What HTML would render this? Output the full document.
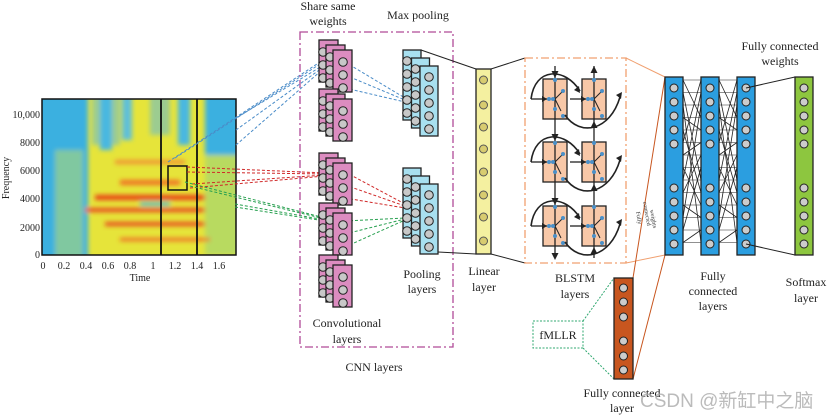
<!DOCTYPE html>
<html><head><meta charset="utf-8"><style>
html,body{margin:0;padding:0;background:#fff;}
svg{display:block;font-family:"Liberation Serif","Noto Serif CJK SC",serif;}
</style></head><body>
<svg id="s" width="828" height="415" viewBox="0 0 828 415" xmlns="http://www.w3.org/2000/svg">
<defs>
<filter id="blur1" x="-10%" y="-10%" width="120%" height="120%"><feGaussianBlur stdDeviation="2.5"/></filter>
<clipPath id="sc"><rect x="42" y="99" width="194" height="156"/></clipPath>
</defs>
<!-- spectrogram -->
<g clip-path="url(#sc)">
<rect x="42" y="99" width="194" height="156" fill="#e6e43a"/>
<g filter="url(#blur1)">
<rect x="30" y="90" width="58" height="180" fill="#3ab0e0"/>
<rect x="55" y="150" width="28" height="110" fill="#80c8a0"/>
<rect x="92" y="90" width="28" height="55" fill="#9ccc90"/>
<rect x="100" y="95" width="12" height="55" fill="#4ab8e0"/>
<rect x="122" y="95" width="10" height="45" fill="#60c0d8"/>
<rect x="150" y="95" width="20" height="40" fill="#9ccc90"/>
<rect x="178" y="90" width="12" height="55" fill="#4ab8e0"/>
<rect x="205" y="90" width="35" height="65" fill="#3ab0e0"/>
<rect x="205" y="155" width="35" height="100" fill="#b8da60"/>
<rect x="115" y="160" width="70" height="4" fill="#f09030"/>
<rect x="120" y="180" width="60" height="5" fill="#f07020"/>
<rect x="95" y="195" width="110" height="5" fill="#e83a18"/>
<rect x="85" y="208" width="120" height="4" fill="#e8401a"/>
<rect x="105" y="222" width="100" height="4" fill="#e84a1a"/>
<rect x="120" y="238" width="90" height="3" fill="#f06020"/>
<rect x="140" y="202" width="30" height="4" fill="#5ac0c0"/>
</g>
</g>
<rect x="42" y="99" width="194" height="156" fill="none" stroke="#111" stroke-width="1.5"/>
<line x1="161" y1="99" x2="161" y2="255" stroke="#111" stroke-width="1.8"/>
<line x1="197" y1="99" x2="197" y2="255" stroke="#111" stroke-width="1.8"/>
<rect x="168" y="166" width="19" height="24" fill="none" stroke="#111" stroke-width="1.5"/>
<g font-size="10" fill="#222" text-anchor="end">
<text x="40" y="118">10,000</text><text x="40" y="146">8000</text><text x="40" y="174">6000</text>
<text x="40" y="202">4000</text><text x="40" y="231">2000</text><text x="40" y="258">0</text>
</g>
<g font-size="10" fill="#222" text-anchor="middle">
<text x="43" y="269">0</text><text x="64" y="269">0.2</text><text x="86" y="269">0.4</text><text x="108" y="269">0.6</text>
<text x="130" y="269">0.8</text><text x="153" y="269">1</text><text x="175" y="269">1.2</text><text x="197" y="269">1.4</text><text x="219" y="269">1.6</text>
<text x="140" y="281">Time</text>
<text transform="translate(9,178) rotate(-90)" font-size="10">Frequency</text>
</g>
<!-- dashed connections -->
<g fill="none" stroke-dasharray="3,2" stroke-width="1">
<g stroke="#4a8cc8"><path d="M168 162 L320 62"/><path d="M236 118 L322 66"/><path d="M236 130 L322 68"/><path d="M236 145 L322 70"/><path d="M175 158 L320 64"/>
<path d="M345 62 L405 98"/><path d="M345 75 L405 100"/><path d="M345 88 L405 102"/></g>
<g stroke="#d02828"><path d="M187 167 L325 173"/><path d="M190 188 L325 176"/><path d="M187 172 L325 174"/><path d="M192 184 L325 175"/>
<path d="M345 172 L405 204"/><path d="M345 185 L405 206"/><path d="M345 198 L405 208"/></g>
<g stroke="#28a050"><path d="M185 182 L325 218"/><path d="M235 204 L325 220"/><path d="M190 186 L325 219"/><path d="M235 207 L325 221"/>
<path d="M345 221 L405 218"/><path d="M345 234 L405 219"/><path d="M345 247 L405 220"/></g>
</g>
<!-- CNN box -->
<rect x="300" y="32" width="153" height="315" fill="none" stroke="#b04a98" stroke-width="1.3" stroke-dasharray="8,3,2,3"/>
<g id="cnn"></g>
<g font-size="12" fill="#222" text-anchor="middle">
<text x="328" y="10">Share same</text><text x="328" y="25">weights</text>
<text x="418" y="19">Max pooling</text>
<text x="347" y="327">Convolutional</text><text x="347" y="343">layers</text>
<text x="422" y="278">Pooling</text><text x="422" y="293">layers</text>
<text x="374" y="371">CNN layers</text>
<text x="484" y="275">Linear</text><text x="484" y="291">layer</text>
<text x="575" y="282">BLSTM</text><text x="575" y="298">layers</text>
<text x="780" y="50">Fully connected</text><text x="780" y="65">weights</text>
<text x="713" y="280">Fully</text><text x="713" y="295">connected</text><text x="713" y="310">layers</text>
<text x="806" y="286">Softmax</text><text x="806" y="302">layer</text>
<text x="622" y="397">Fully connected</text><text x="622" y="412">layer</text>
<text x="558" y="339">fMLLR</text>
</g>
<!-- linear layer -->
<line x1="421" y1="50" x2="476" y2="69" stroke="#222"/>
<line x1="438" y1="252" x2="476" y2="254" stroke="#222"/>
<rect x="476" y="69" width="15" height="185" fill="#f4f0a0" stroke="#222" stroke-width="1.3"/>
<g id="lin"></g>
<!-- BLSTM -->
<line x1="491" y1="69" x2="525" y2="58" stroke="#222"/>
<line x1="491" y1="254" x2="525" y2="263" stroke="#222"/>
<rect x="525" y="58" width="101" height="205" fill="none" stroke="#f0a070" stroke-width="1.3" stroke-dasharray="8,3,2,3"/>
<g id="blg"></g>
<!-- connections to FC -->
<line x1="626" y1="58" x2="665" y2="77" stroke="#f0a070"/>
<line x1="626" y1="263" x2="665" y2="255" stroke="#f0a070"/>
<line x1="633" y1="278" x2="665" y2="77" stroke="#c8561f"/>
<line x1="633" y1="379" x2="665" y2="255" stroke="#c8561f"/>
<text transform="translate(636,212) rotate(80)" font-size="6" fill="#333">Fully</text>
<text transform="translate(643,202) rotate(80)" font-size="6" fill="#333">connected</text>
<text transform="translate(650,210) rotate(80)" font-size="6" fill="#333">weights</text>
<!-- fMLLR -->
<rect x="533" y="321" width="50" height="27" fill="none" stroke="#30a870" stroke-dasharray="2,1.5"/>
<line x1="583" y1="321" x2="614" y2="278" stroke="#30a870" stroke-dasharray="2,1.5"/>
<line x1="583" y1="348" x2="614" y2="379" stroke="#30a870" stroke-dasharray="2,1.5"/>
<rect x="614" y="278" width="19" height="101" fill="#c8561f" stroke="#222" stroke-width="1.3"/>
<g id="fcx"></g>
<g id="fc"></g>
<text x="640" y="407" font-family="'Liberation Sans','Noto Sans CJK SC',sans-serif" font-size="19" fill="#aaa" fill-opacity="0.8">CSDN @新缸中之脑</text>
<script>
var NS="http://www.w3.org/2000/svg";
function el(p,t,a){var e=document.createElementNS(NS,t);for(var k in a)e.setAttribute(k,a[k]);document.getElementById(p).appendChild(e);return e;}
[40,89,153,203,255].forEach(function(y0){
 for(var i=0;i<3;i++){var x=319+i*7,y=y0+i*5;
  el("cnn","rect",{x:x,y:y,width:19,height:42,fill:"#dc8cc0",stroke:"#222","stroke-width":1.3});
  for(var j=0;j<3;j++)el("cnn","circle",{cx:x+(i==2?10:4),cy:y+12+j*13,r:4.3,fill:"#c8c8c8",stroke:"#222","stroke-width":1});}
});
[50,168].forEach(function(y0){
 for(var i=0;i<3;i++){var x=403+i*8.5,y=y0+i*8;
  el("cnn","rect",{x:x,y:y,width:18,height:70,fill:"#a8e0f0",stroke:"#222","stroke-width":1.3});
  for(var j=0;j<5;j++)el("cnn","circle",{cx:x+(i==2?9:4),cy:y+11+j*13,r:4.3,fill:"#c8c8c8",stroke:"#222","stroke-width":1});}
});
[80,105,127,149,172,195,217,241].forEach(function(y){el("lin","circle",{cx:483.5,cy:y,r:4,fill:"#d8cc70",stroke:"#555"});});
el("blg","line",{x1:555,y1:66,x2:555,y2:258,stroke:"#222","stroke-width":1.3});
el("blg","line",{x1:594,y1:66,x2:594,y2:258,stroke:"#222","stroke-width":1.3});
[79,142,206].forEach(function(y){
 [543,582].forEach(function(x){
  el("blg","rect",{x:x,y:y,width:24,height:40,fill:"#f8c8a8",stroke:"#222","stroke-width":1.3});
  el("blg","line",{x1:x+12,y1:y,x2:x+12,y2:y+40,stroke:"#222","stroke-width":1.3});
  el("blg","path",{d:"M"+(x+12)+" "+(y+20)+" L"+(x+20)+" "+(y+12)+" M"+(x+12)+" "+(y+20)+" L"+(x+18)+" "+(y+32),stroke:"#222",fill:"none"});
  [[12,1],[6,20],[10,20],[20,12],[12,30],[20,37]].forEach(function(p){el("blg","circle",{cx:x+p[0],cy:y+p[1],r:2,fill:"#4a90c8"});});
  el("blg","path",{d:"M"+(x-12)+" "+(y+20)+" L"+(x+4)+" "+(y+20),stroke:"#222","stroke-width":1.3});
  el("blg","path",{d:"M"+(x+4)+" "+(y+20)+" l-5 -3 v6z",fill:"#222"});
 });
 el("blg","path",{d:"M531 "+(y+20)+" C535 "+(y-12)+" 565 "+(y-12)+" 580 "+(y+12),stroke:"#222","stroke-width":1.6,fill:"none"});
 el("blg","path",{d:"M580 "+(y+14)+" l-1 -7 l-5 4z",fill:"#222"});
 el("blg","path",{d:"M565 "+(y+36)+" C580 "+(y+58)+" 610 "+(y+52)+" 620 "+(y+18),stroke:"#222","stroke-width":1.6,fill:"none"});
 el("blg","path",{d:"M622 "+(y+13)+" l-6 3 l5 4z",fill:"#222"});
});
[78,141,205,260].forEach(function(y){el("blg","path",{d:"M555 "+y+" l-3.5 -7 h7z",fill:"#222"});});
[66,121,184,247].forEach(function(y){el("blg","path",{d:"M594 "+y+" l-3.5 7 h7z",fill:"#222"});});
[288,302,317,341,356,370].forEach(function(y){el("fc","circle",{cx:623.5,cy:y,r:4,fill:"#ccc",stroke:"#222"});});
var ys=[88,102,116,130,144,188,202,216,230,244];
var xs=[665,701,737];
for(var c=0;c<2;c++){for(var k=0;k<14;k++){var a=80+k*12.5,b=80+((k*5+3)%14)*12.5;
 el("fcx","line",{x1:xs[c]+18,y1:a,x2:xs[c+1],y2:b,stroke:"#222","stroke-width":0.8});
 el("fcx","line",{x1:xs[c]+18,y1:a,x2:xs[c+1],y2:a,stroke:"#222","stroke-width":0.6});}}
xs.forEach(function(x){el("fc","rect",{x:x,y:77,width:18,height:178,fill:"#2b9ee0",stroke:"#222","stroke-width":1.3});
 ys.forEach(function(y){el("fc","circle",{cx:x+9,cy:y,r:4,fill:"#ccc",stroke:"#222"});});});
el("fc","line",{x1:746,y1:88,x2:795,y2:77,stroke:"#222"});
el("fc","line",{x1:746,y1:244,x2:795,y2:255,stroke:"#222"});
el("fc","rect",{x:795,y:77,width:18,height:178,fill:"#8dc63f",stroke:"#222","stroke-width":1.3});
ys.forEach(function(y){el("fc","circle",{cx:804,cy:y,r:4,fill:"#ccc",stroke:"#222"});});
</script>
</svg>
</body></html>
